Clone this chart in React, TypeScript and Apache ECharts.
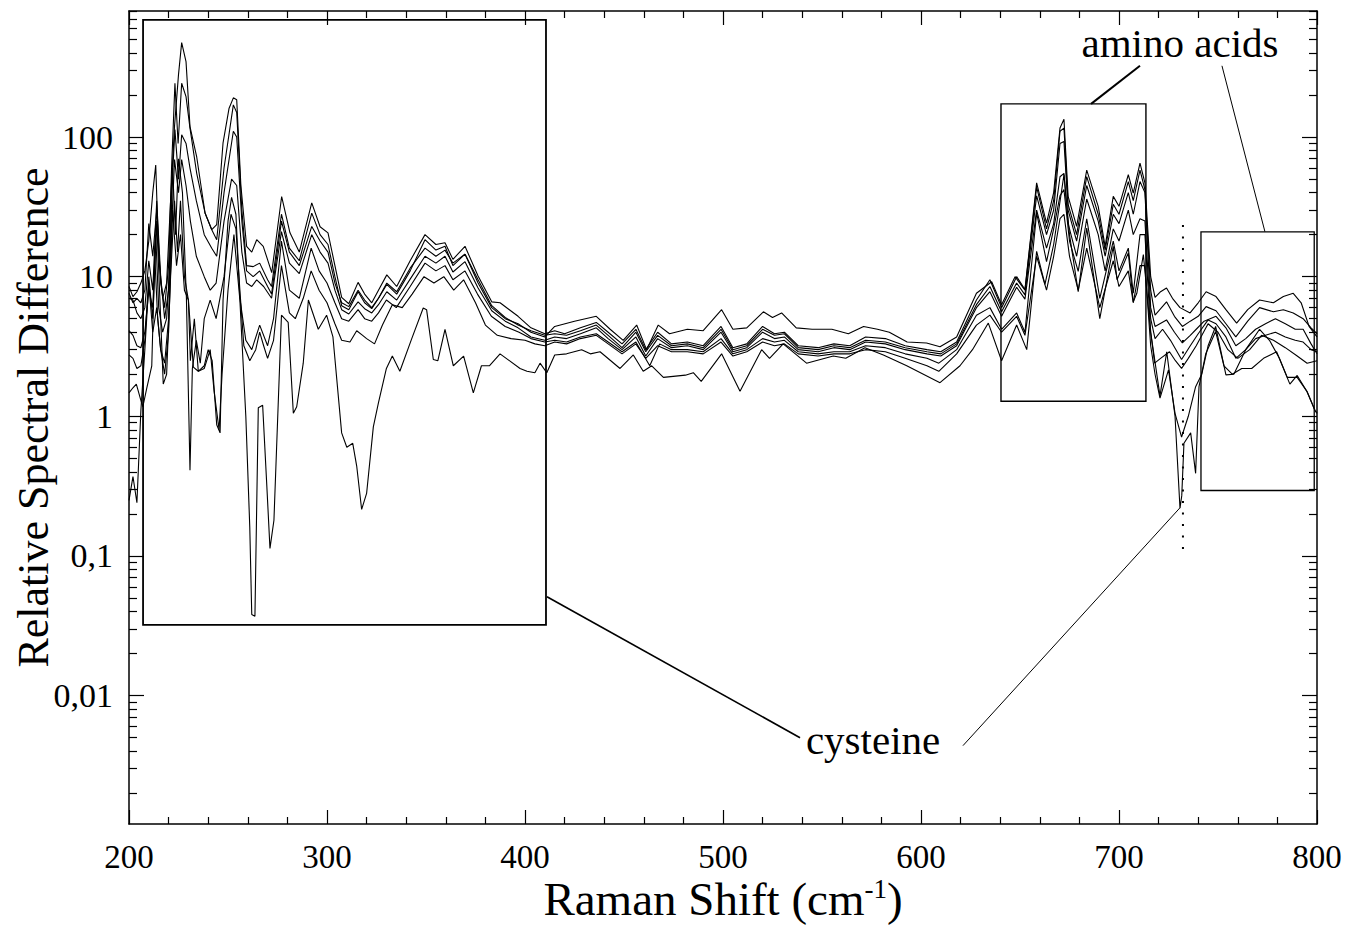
import React, { useEffect, useRef } from 'react';
import * as echarts from 'echarts';

const FONT = '"Liberation Serif", "Times New Roman", serif';

const xMin = 200;
const xMax = 800;
const xInterval = 100;
const yMin = 0.0012;
const yMax = 800;
const yTickValues = [0.01, 0.1, 1, 10, 100];
const yTickLabels = ['0,01', '0,1', '1', '10', '100'];
const yMinorMultipliers = [2, 3, 4, 5, 6, 7, 8, 9];
const yDecades = [-3, -2, -1, 0, 1, 2];

const xTitle = 'Raman Shift (cm{sup|-1})';
const yTitle = 'Relative Spectral Difference';
const labelAmino = 'amino acids';
const labelCysteine = 'cysteine';

// spectra: [Raman shift, relative spectral difference]
const seriesA: number[][] = [[200,8.5],[202,7.2],[204,7.8],[206,9],[208,11],[210,18],[212,40],[213.5,63],[215,14],[217,7],[219,9],[221,35],[223,120],[225,280],[226.6,475],[228.8,347],[230.8,119],[234.2,72],[238.4,28.6],[241.8,21.7],[244.3,23.6],[247.5,91],[250.5,160],[252.7,191],[254.4,185],[256.5,45],[259.4,16.5],[262,15],[264.5,18.4],[267.8,16.5],[272.1,10.7],[277.1,37.5],[281.3,20.6],[286,15],[292.3,33.8],[296.5,22.8],[300.5,20.6],[304,12],[307.4,7.1],[311,6.4],[315.7,9.1],[319,7.5],[322.6,6.5],[326,8],[330.2,10.3],[335.2,8.5],[342,13],[349.5,20],[355,17],[359.6,17.5],[363.6,13.3],[369.7,16.5],[376.3,10.1],[383.2,6.6],[387.4,6.5],[396.5,5.2],[403,4.3],[410,3.9],[415,4.1],[420,3.9],[428,4.3],[436,4.7],[442,4.0],[449,3.3],[456,4.2],[461,3.0],[467,4.0],[474,3.3],[482,3.4],[490,3.2],[499,4.4],[505,3.1],[512,3.3],[520,4.4],[526,3.9],[531,4.0],[538,3.2],[548,3.1],[556,3.3],[564,3.2],[572,3.7],[582,3.6],[592,3.2],[603,3.0],[610,2.9],[618,3.4],[628,6.8],[634.8,9.5],[640.7,6.0],[648.3,10],[652.5,8.1],[658.4,47],[663.4,24.2],[667,40],[670.2,116],[672.2,134],[674.3,37.6],[678.6,22.9],[683.7,58],[689.5,31.9],[693,16.5],[697.1,37.6],[700,31.9],[704.7,53.7],[707.2,39.7],[710.6,65],[713.1,47],[716,10],[718.2,7.1],[721,7.8],[724,8.3],[727,7],[730.8,6.0],[735.9,5.5],[740,6.5],[744,7.8],[749,7.2],[754,5.8],[759.4,4.65],[765,5.8],[771,6.8],[778,6.5],[783,7.2],[788,7.6],[792,6.5],[796,4.4],[800,3.7]];

const seriesB: number[][] = [[200,7.6],[202,6.5],[204,7],[206,6.5],[208,8],[210,24],[212,14],[214,30],[216,9],[218,6],[220,12],[221.5,60],[223.2,243],[224.8,90],[226.6,243],[228.8,195],[230.8,116],[234.2,55],[238.4,28.6],[241.8,21.7],[244.3,18.4],[248,60],[252.7,170],[254.4,150],[257,30],[259.4,12],[262.7,11.8],[266,12.5],[270,9.5],[272,8.5],[277,28],[281,16],[286,13],[292.3,28.5],[296.5,20],[300.5,17],[304,10],[307.4,6.2],[311,5.8],[315.7,7.8],[319,6.5],[322.6,5.9],[326,7],[330.2,8.8],[335.2,7.5],[342,11],[349.5,18.4],[355,15.5],[359.6,16.5],[363.6,12],[369.7,14.5],[376.3,9],[383.2,6],[390,5],[396.5,4.6],[403,4.0],[410,3.7],[415,4.4],[425,4.8],[436,5.2],[443,4.2],[449.6,3.5],[456.4,4.5],[461.4,3.0],[467.3,4.5],[473,3.9],[482,4.2],[490,4.1],[499.3,5.8],[505,4.2],[512,4.3],[520.4,5.6],[525,5.1],[529.6,5.5],[537,4.3],[545,4.2],[555,4.2],[563.3,3.9],[571,4.4],[578,4.2],[584,4.0],[593,3.4],[602.8,3.35],[609.6,3.15],[618,3.7],[628,7.6],[635.7,9.2],[640.7,6.3],[647.5,10],[652.5,8.0],[658.4,44],[663.4,22],[667,35],[670.2,110],[672.2,116],[674.3,33],[678.6,20],[683.7,52],[689.5,28],[693,15.5],[697.1,33],[700,28],[704.7,48],[707.2,35],[710.6,58],[713.1,42],[716,8],[718.2,5.3],[724,6.6],[728,5.2],[732,4.4],[736,4.8],[740,5.2],[744,6.1],[749,5.7],[754,4.6],[759,3.7],[765,4.8],[771,6.0],[778,5.6],[783,5.8],[788,5.5],[793,5.0],[797,4.3],[800,3.9]];

const seriesC: number[][] = [[200,7.0],[202,6.8],[204,5.5],[206,5],[208,6],[210,13],[212,8],[214,35],[216,10],[218,5],[220,8],[221.5,40],[223.2,113],[225,50],[226.6,104],[228.8,90],[230.8,60],[234,35],[238,20],[241.8,16],[244.3,14],[248,40],[252.7,110],[254.4,100],[257,25],[259.4,11],[262.7,10],[266,11],[270,8.5],[272,7.5],[277,25],[281,15],[286,12],[292.3,22.9],[296.5,18],[300.5,15],[304,9],[307.4,6.5],[311,6.1],[315.7,8],[319,6.8],[322.6,6.0],[326,7],[330.2,9],[335.2,7.8],[342,11.5],[349.5,16],[355,14],[359.6,15.5],[363.6,12.5],[369.7,14.5],[376.3,9.5],[383.2,6.2],[390,5.1],[396.5,4.5],[403,4.1],[410,3.8],[415,3.9],[421,3.8],[428,4.1],[436,4.5],[442,3.8],[449,3.1],[456,4.0],[461,2.9],[467,3.8],[474,3.2],[482,3.3],[490,3.1],[499,4.2],[505,3.0],[512,3.2],[520,4.2],[526,3.8],[531,3.9],[538,3.1],[548,3.0],[556,3.2],[564,3.1],[572,3.5],[582,3.4],[592,3.1],[603,2.9],[610,2.8],[618,3.3],[628,6.3],[634.8,8.5],[640.7,5.6],[648.3,9.0],[652.5,7.4],[658.4,38],[663.4,20],[667,30],[670.2,90],[672.2,93],[674.3,30],[678.6,18],[683.7,45],[689.5,25],[693,14],[697.1,28],[700,24],[704.7,40],[707.2,28],[710.6,48],[713.1,40],[716,6],[718.2,4.4],[724,4.9],[728,4.0],[732,3.35],[736,3.8],[739,4.2],[743,4.8],[749,5.2],[754,4.3],[759,3.2],[764,3.6],[769,4.2],[774,4.6],[779,5.0],[784,4.6],[789,4.2],[793,4.2],[797,3.3],[800,2.8]];

const seriesD: number[][] = [[200,4.1],[202,3.8],[204,3.2],[206,3.1],[208,4],[210,8],[212,6],[213.5,20],[215,6],[217,4],[219,5],[221,15],[223,69],[225,40],[226.6,69],[228.8,45],[231,25],[234,14],[238,10],[241,8],[244,9],[248,25],[251.8,50],[254.4,45],[257,15],[259.4,9],[262,8.5],[264.5,9.5],[268,8.5],[272,7],[277,21],[281,12.5],[286,10.5],[292.3,20],[296.5,15],[300.5,12.5],[304,8],[307.4,5.8],[311,5.4],[315.7,6.6],[319,5.9],[322.6,5.5],[326,6.3],[330.2,7.8],[335.2,6.8],[342,9.6],[349.5,14],[355,12.5],[359.6,14],[363.6,10.8],[369.7,12.8],[376.3,8.3],[383.2,5.7],[390,4.8],[396.5,4.3],[403,3.7],[410,3.5],[415,3.7],[421,3.6],[428,3.9],[436,4.3],[442,3.6],[449,3.0],[456,3.7],[461,2.7],[467,3.6],[474,3.1],[482,3.2],[490,3.0],[499,4.0],[505,2.9],[512,3.1],[520,4.0],[526,3.6],[531,3.7],[538,3.0],[548,2.9],[556,3.1],[564,3.0],[572,3.4],[582,3.3],[592,3.0],[603,2.8],[610,2.7],[618,3.2],[628,6.0],[634.8,7.8],[640.7,5.2],[648.3,8.4],[652.5,6.9],[658.4,30],[663.4,16],[667,24],[670.2,52],[672.2,55],[674.3,24],[678.6,14],[683.7,36],[689.5,20],[693,11],[697.1,22],[700,18],[704.7,30],[707.2,20],[710.6,26],[713.1,25],[716,5],[718.2,3.6],[722,4.2],[726,3.5],[731.6,2.55],[736,3.2],[740,3.9],[745,4.9],[749,4.6],[754,3.7],[759,2.6],[764,3.0],[769,3.6],[774,3.8],[779,4.0],[784,3.7],[789,3.5],[793,3.4],[797,3.0],[800,2.9]];

const seriesE: number[][] = [[200,2.75],[202,2.6],[204,2.2],[206,2.3],[208,3.5],[210,10],[212,5],[214,25],[216,5],[217.3,1.7],[219,2.0],[221,10],[223,35],[224.5,15],[226,35],[228,10],[230,6.8],[232.5,2.25],[235,2.1],[238,2.3],[240,3.0],[242,2.5],[244.3,0.87],[246,0.76],[247.5,6.8],[250,25],[251.8,37],[254,28],[256,7],[259,3.5],[262,3.0],[266,4.5],[270,3.2],[273,5],[277,18],[281,8],[286,7],[292,16],[296,11],[300,9],[304,6.5],[307.4,5.0],[311,4.8],[315.7,5.8],[319,5.0],[322.6,4.8],[326,5.5],[330,6.8],[335,6.0],[342,8.5],[349.5,12.5],[355,11],[359.6,12],[363.6,9.5],[369.7,11],[376,7.5],[383,5.2],[390,4.4],[397,4.0],[403,3.6],[410,3.4],[415,3.5],[421,3.4],[428,3.7],[436,3.9],[442,3.4],[449,2.9],[456,3.4],[463,2.3],[468,3.3],[474,3.0],[482,3.0],[490,2.9],[499,3.6],[505,2.8],[512,3.0],[520,3.6],[526,3.4],[531,3.5],[538,2.9],[548,2.8],[556,2.9],[564,2.9],[572,3.2],[582,3.1],[592,2.8],[603,2.6],[609,2.4],[618,3.0],[628,5.3],[634.8,6.0],[640.7,4.2],[648.3,5.5],[652.5,4.0],[658.4,28.6],[663.4,12.8],[667,22],[670.2,38],[672.2,42],[675,18],[679.4,10.9],[683.7,26],[690.3,7.0],[697.1,18],[700,11],[704.7,16],[707.2,7.6],[710.6,20],[713.1,20],[716,4],[718,2.4],[721,2.6],[725.5,2.9],[728.5,2.5],[731.6,2.2],[735,2.6],[739,3.2],[745,4.6],[750,4.0],[755,3.0],[760,2.6],[766,3.0],[772,3.8],[778,3.5],[784,3.1],[790,2.7],[795,2.4],[800,2.5]];

const seriesF: number[][] = [[200,1.47],[202,1.6],[203.7,1.7],[206,1.3],[207,1.17],[209,1.6],[211.5,2.3],[213,14],[214.5,5],[216,3],[218,2.4],[220,5],[222,60],[223.5,20],[225,70],[227,40],[229,7],[230.8,0.41],[232,2.2],[234,3.5],[236,2.4],[238,5],[241,6.8],[244,5],[248,10],[251.5,28],[254,22],[256,8],[258,3.2],[261,2.5],[264,3],[266,4],[268,3.2],[270,2.6],[273,3.5],[277,12],[281,5.5],[284,5],[288,7],[292,11],[296,8],[300,6.5],[304,4.6],[307.4,3.5],[311.6,3.4],[315,4.1],[318,3.8],[320,3.6],[324,3.3],[328,4.5],[333,6.3],[338,6.0],[343,7.5],[349,10],[354,9],[359,10],[364,8],[369,9.5],[375,6.5],[380,4.5],[386,3.8],[393,3.6],[400,3.5],[405,3.3],[410,3.2],[415,3.4],[421,3.3],[428,3.6],[436,3.8],[442,3.3],[449,2.8],[456,3.3],[461,2.6],[467,3.2],[474,2.9],[482,2.9],[490,2.8],[499,3.4],[505,2.7],[512,2.9],[520,3.4],[526,3.2],[531,3.3],[538,2.8],[548,2.7],[556,2.8],[564,2.8],[572,3.0],[582,2.9],[592,2.6],[603,2.3],[609,2.1],[618,2.8],[628,4.5],[634.8,5.3],[640.7,4.0],[648.3,5.2],[652.5,3.8],[658.4,14],[663.4,8],[667,14],[670.2,26],[672.2,28],[675,14],[679.4,8],[683.7,16],[690.3,6.0],[697.1,13],[700,8.5],[704.7,11],[707.2,6.5],[710.6,12],[713.1,12],[716,3.2],[718.2,2.0],[720.7,1.35],[725,2.15],[728.3,1.05],[731.6,0.71],[735,1.0],[738.7,1.63],[741.8,2.0],[745,3.2],[748.8,4.4],[754,1.98],[758,2.0],[764,3.0],[771,4.2],[776,3.5],[781,2.6],[785,1.9],[790,1.9],[795,1.5],[799,1.1],[800,1.05]];

const seriesG: number[][] = [[200,0.25],[202,0.37],[204,0.24],[206,1.1],[208,3],[210,9],[212,4],[214,6],[216,3],[218,2],[220,4],[222,30],[224,12],[226,20],[228,8],[230,6.8],[231,2.5],[233,5],[235,2.1],[238,2.2],[241,3.0],[243,1.5],[245.5,0.8],[247,2],[250,8],[253,20],[256,6.8],[259,1.0],[261,0.16],[262,0.038],[263.6,0.037],[265.3,1.15],[267.5,1.2],[269.5,0.34],[271.2,0.113],[273.2,0.18],[277,5.3],[280.4,4.7],[283,1.05],[284.7,1.17],[288,2.4],[290.6,6.8],[295.6,4.2],[299.8,5.3],[303,3.7],[307.4,0.76],[310,0.6],[313,0.64],[315,0.44],[317.5,0.215],[320,0.28],[323.4,0.84],[326,1.25],[330,2.2],[333,2.7],[336.8,2.1],[342.8,3.6],[348.6,5.96],[350.3,5.8],[353.7,2.55],[356,2.5],[359.6,4.2],[363.8,2.3],[369,2.7],[373.9,1.47],[378,2.3],[382,2.3],[387.4,2.8],[397.5,2.2],[401,2.1],[405,2.05],[407.6,2.4],[411,2.05],[415,2.75],[421,2.8],[428.6,3.0],[433,2.8],[437.9,2.9],[448,2.2],[454.7,2.75],[459.7,2.1],[464,2.3],[469.9,1.9],[481,1.97],[485,2.05],[489,1.78],[499.3,2.8],[508.6,1.51],[519.5,3.0],[523.5,2.6],[530.4,3.3],[542.2,2.4],[555.7,2.7],[562,2.6],[571.7,3.1],[581,2.75],[592.8,2.3],[609.6,1.74],[619.7,2.3],[626,3.0],[634,4.65],[640.7,2.5],[648.3,4.5],[653.4,3.0],[658.4,15.2],[662.6,8.8],[667,17],[672.2,53.7],[675,20],[679.4,7.8],[683.7,22.3],[690.3,5.0],[697.1,16.5],[699,9.5],[704.7,14.8],[707.2,6.6],[709,7.6],[712.3,14.4],[716,4],[720.7,1.4],[724.1,2.9],[728.3,1.0],[730.8,0.22],[731.7,0.27],[732.8,0.64],[736.2,0.76],[738.7,0.39],[740.4,1.63],[743.8,2.8],[748.8,4.05],[753,2.3],[757.2,2.0],[762,2.2],[767,2.2],[773,2.6],[779.6,2.9],[786.3,1.7],[790,1.96],[795,1.5],[799,1.1],[800,1.05]];

const allSeries = [seriesA, seriesB, seriesC, seriesD, seriesE, seriesF, seriesG];

// annotation anchors in data coordinates
const boxCysteine = [[207.1, 0.032], [410.6, 692]];
const boxAminoLeft = [[640.4, 1.28], [713.6, 173]];
const boxAminoRight = [[741.4, 0.294], [798.6, 20.9]];
const dipMarker = [[732.3, 0.112], [732.3, 24.5]];
const aminoTextPos = [730.8, 473];
const cysteineTextPos = [575.8, 0.0048];
const leaderCysteineBox = [[411.1, 0.051], [538.9, 0.00498]];
const leaderCysteineDip = [[621.2, 0.00437], [730.8, 0.221]];
const leaderAminoLeft = [[710.6, 324], [685.9, 173]];
const leaderAminoRight = [[752, 324], [773.7, 21]];

const yMinorTickValues: number[] = [];
yDecades.forEach((e) => {
  yMinorMultipliers.forEach((k) => {
    const v = Number((k * Math.pow(10, e)).toPrecision(6));
    if (v >= yMin && v <= yMax) yMinorTickValues.push(v);
  });
});

function yLabel(v: number): string {
  let best = 0;
  for (let i = 1; i < yTickValues.length; i++) {
    if (Math.abs(Math.log10(yTickValues[i]) - Math.log10(v)) < Math.abs(Math.log10(yTickValues[best]) - Math.log10(v))) best = i;
  }
  return yTickLabels[best];
}

const black = '#000';

function xAxisCfg(pos: 'bottom' | 'top', withLabels: boolean) {
  return {
    type: 'value',
    position: pos,
    min: xMin,
    max: xMax,
    interval: xInterval,
    name: withLabels ? xTitle : '',
    nameLocation: 'middle',
    nameGap: 51,
    nameMoveOverlap: false,
    nameTextStyle: {
      fontFamily: FONT, fontSize: 47, color: black,
      rich: { sup: { fontFamily: FONT, fontSize: 27, color: black, verticalAlign: 'top', lineHeight: 27 } },
    },
    axisLine: { show: true, onZero: false, lineStyle: { color: black, width: 1.5 } },
    axisTick: { show: true, inside: true, length: 14, lineStyle: { color: black, width: 1.2 } },
    minorTick: { show: true, splitNumber: 5, length: 7, lineStyle: { color: black, width: 1.2 } },
    splitLine: { show: false },
    minorSplitLine: { show: false },
    axisLabel: { show: withLabels, fontFamily: FONT, fontSize: 33, color: black, margin: 16, showMinLabel: true, showMaxLabel: true },
  };
}

function yAxisCfg(pos: 'left' | 'right', major: boolean, withLabels: boolean) {
  return {
    type: 'log',
    logBase: 10,
    position: pos,
    min: yMin,
    max: yMax,
    name: withLabels ? yTitle : '',
    nameLocation: 'middle',
    nameRotate: 90,
    nameGap: 74,
    nameMoveOverlap: false,
    nameTextStyle: { fontFamily: FONT, fontSize: 44, color: black },
    axisLine: { show: major, onZero: false, lineStyle: { color: black, width: 1.5 } },
    axisTick: {
      show: true, inside: true, length: major ? 15 : 8,
      customValues: major ? yTickValues : yMinorTickValues,
      lineStyle: { color: black, width: 1.2 },
    },
    splitLine: { show: false },
    axisLabel: withLabels
      ? { show: true, customValues: yTickValues, formatter: (v: number) => yLabel(v), fontFamily: FONT, fontSize: 34, color: black, margin: 16 }
      : { show: false },
  };
}

export default function App() {
  const ref = useRef<HTMLDivElement>(null);
  useEffect(() => {
    const el = ref.current;
    if (!el) return;
    const chart = echarts.init(el, null, { renderer: 'svg' });
    chart.setOption({
      animation: false,
      backgroundColor: '#fff',
      grid: { left: 129, top: 11, right: 33, bottom: 110, containLabel: false, outerBoundsMode: 'none' },
      xAxis: [xAxisCfg('bottom', true), xAxisCfg('top', false)],
      yAxis: [yAxisCfg('left', true, true), yAxisCfg('left', false, false), yAxisCfg('right', true, false), yAxisCfg('right', false, false)],
      series: allSeries.map((d, i) => ({
        type: 'line',
        name: 'spectrum ' + (i + 1),
        xAxisIndex: 0,
        yAxisIndex: 0,
        data: d,
        showSymbol: false,
        symbol: 'none',
        clip: true,
        lineStyle: { color: black, width: 1.1 },
        emphasis: { disabled: true },
      })),
    });

    const p = (pt: number[]) => chart.convertToPixel({ seriesIndex: 0 }, pt) as number[];
    const rect = (b: number[][], w: number) => {
      const a = p(b[0]);
      const c = p(b[1]);
      return {
        type: 'rect',
        silent: true,
        z: 10,
        shape: { x: Math.min(a[0], c[0]), y: Math.min(a[1], c[1]), width: Math.abs(c[0] - a[0]), height: Math.abs(c[1] - a[1]) },
        style: { fill: 'rgba(0,0,0,0)', stroke: black, lineWidth: w },
      };
    };
    const line = (seg: number[][], w: number, dash?: number[]) => {
      const a = p(seg[0]);
      const c = p(seg[1]);
      return {
        type: 'line',
        silent: true,
        z: 10,
        shape: { x1: a[0], y1: a[1], x2: c[0], y2: c[1] },
        style: { stroke: black, lineWidth: w, lineDash: dash, lineCap: 'butt' },
      };
    };
    const text = (pos: number[], s: string) => {
      const a = p(pos);
      return {
        type: 'text',
        silent: true,
        z: 10,
        x: a[0],
        y: a[1],
        style: {
          text: s, font: '41px ' + FONT, fill: black,
          textAlign: 'center', textVerticalAlign: 'middle', align: 'center', verticalAlign: 'middle',
        },
      };
    };
    chart.setOption({
      graphic: [
        rect(boxCysteine, 1.8),
        rect(boxAminoLeft, 1.4),
        rect(boxAminoRight, 1.3),
        line(dipMarker, 2, [2, 9.5]),
        line(leaderCysteineBox, 1.6),
        line(leaderCysteineDip, 1),
        line(leaderAminoLeft, 2),
        line(leaderAminoRight, 1),
        text(aminoTextPos, labelAmino),
        text(cysteineTextPos, labelCysteine),
      ],
    });
    return () => chart.dispose();
  }, []);
  return <div ref={ref} style={{ position: 'absolute', left: 0, top: 0, width: 1350, height: 934, background: '#fff' }} />;
}
